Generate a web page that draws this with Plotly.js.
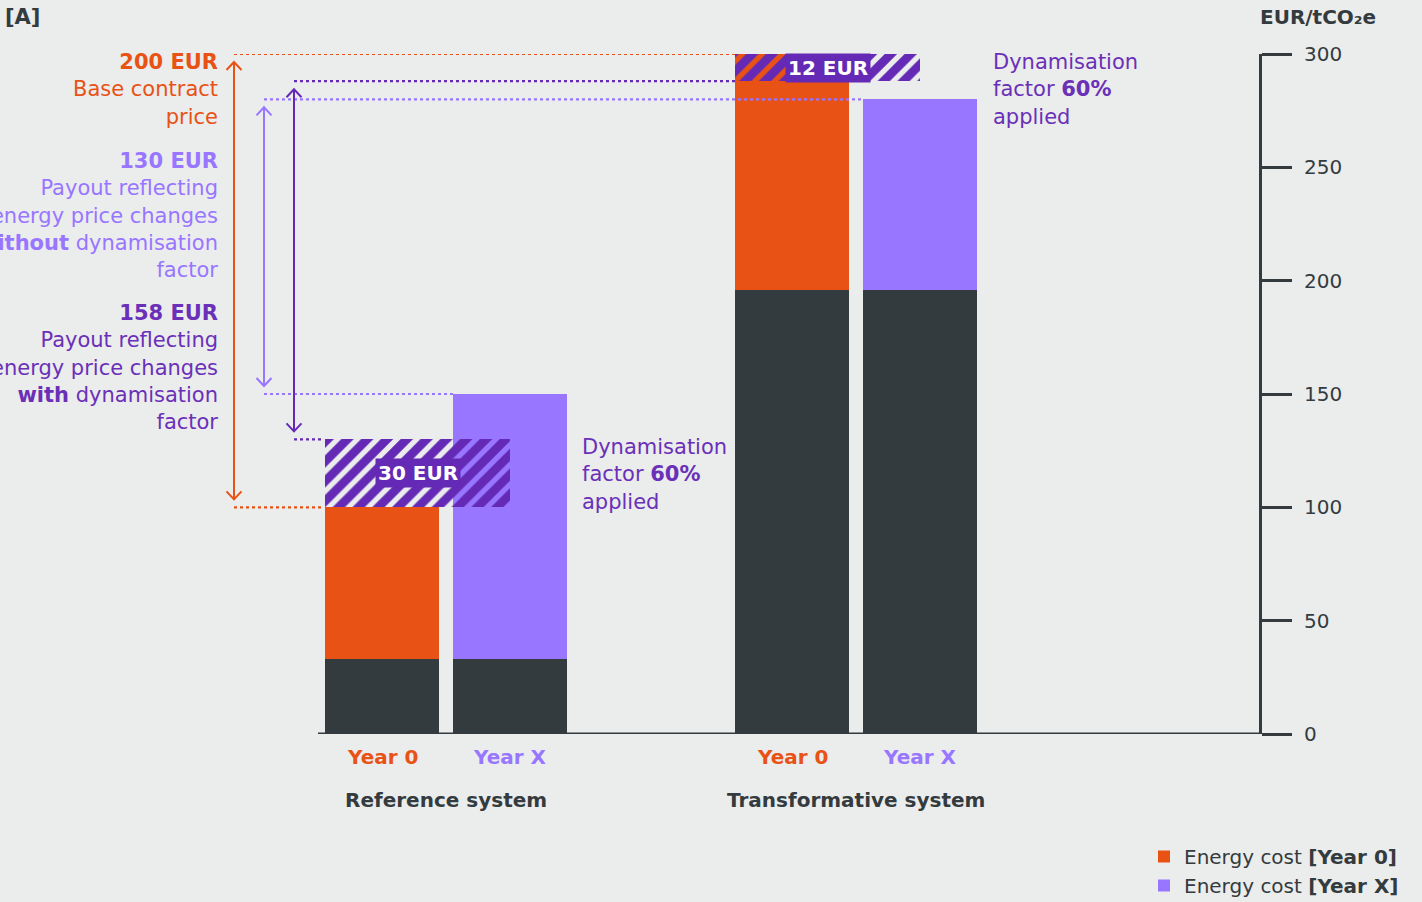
<!DOCTYPE html>
<html>
<head>
<meta charset="utf-8">
<script src="https://cdn.plot.ly/plotly-3.0.1.min.js"></script>
<style>
html,body{margin:0;padding:0;background:#EBECEC;}
#chart{width:1422px;height:902px;}
</style>
</head>
<body>
<div id="chart"></div>
<script>
// ---------------- DATA ----------------
const systems = ["Reference system", "Transformative system"];
const years = ["Year 0", "Year X"];
const baseCost = [33, 196];            // dark base segment
const energyYear0 = [67, 92];          // energy cost [Year 0]
const energyYearX = [117, 84];         // energy cost [Year X]
const dynamisationPayout = [30, 12];   // hatched payout (60% dynamisation factor)
const payoutLabels = ["30 EUR", "12 EUR"];
const dynamisationFactor = "60%";
const tickValues = [0, 50, 100, 150, 200, 250, 300];
const tickLabels = ["0", "50", "100", "150", "200", "250", "300"];
const legendNames = ["Energy cost <b>[Year 0]</b>", "Energy cost <b>[Year X]</b>"];
const yUnit = "EUR/tCO₂e";
const panelLabel = "[A]";

// ---------------- STYLE / LAYOUT CONSTANTS ----------------
const W = 1422, H = 902;
const PLOT_L = 0, PLOT_R = 1259, PLOT_T = 54, PLOT_B = 734;
const Y_MAX = 300;
const FONT = "DejaVu Sans, Verdana, sans-serif";
const C = {
  bg: "#EBECEC", dark: "#343B3E", orange: "#E85215",
  purple: "#9876FF", deep: "#6429B5", deepText: "#6A30B8"
};
const groupCenters = [446, 856];
const barWidth = 114, barOffset = 64;
const hatchOnEnergy0 = [false, true];  // in the transformative system the orange bar runs under the hatch
const px2p = (py) => (PLOT_B - py) / (PLOT_B - PLOT_T);   // paper y
const pxX = (px) => px / (PLOT_R - PLOT_L);                 // paper x
const dpx = (n) => n * Y_MAX / (PLOT_B - PLOT_T);

const x0 = groupCenters.map(c => c - barOffset);
const xX = groupCenters.map(c => c + barOffset);
const top0 = baseCost.map((b, i) => b + energyYear0[i]);
const topX = baseCost.map((b, i) => b + energyYearX[i]);
const hatchLeft = x0.map(x => x - barWidth / 2);
const hatchRight = xX;
const hatchCenter = hatchLeft.map((l, i) => (l + hatchRight[i]) / 2);
const hatchW = hatchLeft.map((l, i) => hatchRight[i] - l);

// ---------------- TRACES ----------------
const traces = [];
traces.push({
  type: "bar", name: "Base cost", showlegend: false,
  x: x0.concat(xX), y: baseCost.concat(baseCost), base: [0, 0, 0, 0],
  width: barWidth, marker: {color: C.dark, line: {width: 0}}, hoverinfo: "skip"
});
traces.push({
  type: "bar", name: legendNames[0],
  x: x0, y: energyYear0.map((e, i) => e + (hatchOnEnergy0[i] ? dynamisationPayout[i] : 0)),
  base: baseCost, width: barWidth, marker: {color: C.orange, line: {width: 0}}, hoverinfo: "skip"
});
traces.push({
  type: "bar", name: legendNames[1],
  x: xX, y: energyYearX, base: baseCost, width: barWidth,
  marker: {color: C.purple, line: {width: 0}}, hoverinfo: "skip"
});
traces.push({
  type: "bar", name: "Dynamisation payout", showlegend: false,
  x: hatchCenter, y: dynamisationPayout, base: top0, width: hatchW,
  marker: {
    color: "rgba(0,0,0,0)", line: {width: 0},
    pattern: {shape: "/", fgcolor: C.deep, bgcolor: "rgba(0,0,0,0)", fgopacity: 1,
              size: 14, solidity: 0.62, fillmode: "overlay"}
  },
  hoverinfo: "skip"
});

// ---------------- CALLOUT LEVELS ----------------
const totalTrans0 = top0[1] + dynamisationPayout[1];
const callouts = [
  {x: 234, lo: top0[0], hi: totalTrans0, color: C.orange, loEnd: hatchLeft[0] - 2, hiEnd: hatchLeft[1]},
  {x: 264, lo: topX[0], hi: topX[1], color: C.purple, loEnd: xX[0] - barWidth / 2, hiEnd: xX[1] - barWidth / 2},
  {x: 294, lo: top0[0] + dynamisationPayout[0], hi: top0[1], color: C.deep, loEnd: hatchLeft[0] - 2, hiEnd: hatchLeft[1]}
];

const shapes = [];
shapes.push({type: "line", xref: "x", yref: "y", x0: 318, x1: PLOT_R, y0: 0, y1: 0,
  line: {color: C.dark, width: 3}, layer: "below"});
callouts.forEach(c => {
  shapes.push({type: "line", xref: "x", yref: "y", x0: c.x, x1: c.hiEnd, y0: c.hi, y1: c.hi,
    line: {color: c.color, width: 2.2, dash: "dot"}});
  shapes.push({type: "line", xref: "x", yref: "y", x0: c.x, x1: c.loEnd, y0: c.lo, y1: c.lo,
    line: {color: c.color, width: 2.2, dash: "dot"}});
  const tTop = c.hi - dpx(8), tBot = c.lo + dpx(8);
  shapes.push({type: "path", xref: "x", yref: "y",
    path: `M${c.x},${tTop} L${c.x},${tBot}`, line: {color: c.color, width: 2}});
  shapes.push({type: "path", xref: "x", yref: "y",
    path: `M${c.x - 7.5},${tTop - dpx(8)} L${c.x},${tTop} L${c.x + 7.5},${tTop - dpx(8)}`, line: {color: c.color, width: 2}});
  shapes.push({type: "path", xref: "x", yref: "y",
    path: `M${c.x - 7.5},${tBot + dpx(8)} L${c.x},${tBot} L${c.x + 7.5},${tBot + dpx(8)}`, line: {color: c.color, width: 2}});
});

// ---------------- ANNOTATIONS ----------------
const FS = 21;
const ann = [];
const A = (o) => Object.assign({xref: "x", yref: "paper", showarrow: false}, o);
ann.push(A({x: 220, y: px2p(89.5), xanchor: "right", yanchor: "middle", align: "right",
  text: `<b>${callouts[0].hi - callouts[0].lo} EUR</b><br>Base contract<br>price`,
  font: {family: FONT, size: FS, color: C.orange}}));
ann.push(A({x: 220, y: px2p(215), xanchor: "right", yanchor: "middle", align: "right",
  text: `<b>${callouts[1].hi - callouts[1].lo} EUR</b><br>Payout reflecting<br>energy price changes<br><b>without</b> dynamisation<br>factor`,
  font: {family: FONT, size: FS, color: C.purple}}));
ann.push(A({x: 220, y: px2p(367.5), xanchor: "right", yanchor: "middle", align: "right",
  text: `<b>${callouts[2].hi - callouts[2].lo} EUR</b><br>Payout reflecting<br>energy price changes<br><b>with</b> dynamisation<br>factor`,
  font: {family: FONT, size: FS, color: C.deepText}}));
[[580, 474], [991, 89]].forEach(p => {
  ann.push(A({x: p[0], y: px2p(p[1]), xanchor: "left", yanchor: "middle", align: "left",
    text: `Dynamisation<br>factor <b>${dynamisationFactor}</b><br>applied`,
    font: {family: FONT, size: FS, color: C.deepText}}));
});
payoutLabels.forEach((t, i) => {
  ann.push(A({x: hatchCenter[i], yref: "y", y: top0[i] + dynamisationPayout[i] / 2, xanchor: "center", yanchor: "middle",
    text: `<b>${t}</b>`, bgcolor: C.deep, borderpad: 2,
    font: {family: FONT, size: 20, color: "#FFFFFF"}}));
});
systems.forEach((s, i) => {
  ann.push(A({x: x0[i], y: px2p(757), xanchor: "center", yanchor: "middle",
    text: `<b>${years[0]}</b>`, font: {family: FONT, size: 20, color: C.orange}}));
  ann.push(A({x: xX[i], y: px2p(757), xanchor: "center", yanchor: "middle",
    text: `<b>${years[1]}</b>`, font: {family: FONT, size: 20, color: C.purple}}));
  ann.push(A({x: groupCenters[i], y: px2p(800), xanchor: "center", yanchor: "middle",
    text: `<b>${s}</b>`, font: {family: FONT, size: 20, color: C.dark}}));
});
ann.push(A({xref: "paper", x: pxX(1318), y: px2p(17), xanchor: "center", yanchor: "middle",
  text: `<b>${yUnit}</b>`, font: {family: FONT, size: 20, color: C.dark}}));
ann.push(A({xref: "paper", x: pxX(3), y: px2p(17), xanchor: "left", yanchor: "middle",
  text: `<b>${panelLabel}</b>`, font: {family: FONT, size: 21, color: C.dark}}));

// ---------------- LAYOUT ----------------
const layout = {
  width: W, height: H,
  margin: {l: PLOT_L, r: W - PLOT_R, t: PLOT_T, b: H - PLOT_B, pad: 0, autoexpand: false},
  paper_bgcolor: C.bg, plot_bgcolor: C.bg,
  barmode: "overlay", bargap: 0,
  font: {family: FONT, color: C.dark, size: 20},
  xaxis: {range: [0, PLOT_R], visible: false, fixedrange: true},
  yaxis: {
    range: [0, Y_MAX], side: "right", showgrid: false, zeroline: false,
    showline: true, linecolor: C.dark, linewidth: 3,
    ticks: "outside", ticklen: 30, tickwidth: 3, tickcolor: C.dark,
    tickvals: tickValues, ticktext: tickLabels, ticklabelstandoff: 8,
    tickfont: {family: FONT, size: 20, color: C.dark}, fixedrange: true
  },
  showlegend: true,
  legend: {
    x: pxX(1144), y: px2p(837), xanchor: "left", yanchor: "top",
    bgcolor: "rgba(0,0,0,0)", font: {family: FONT, size: 20, color: C.dark},
    traceorder: "normal", tracegroupgap: 0
  },
  shapes: shapes,
  annotations: ann
};

Plotly.newPlot("chart", traces, layout, {displayModeBar: false, staticPlot: true});
</script>
</body>
</html>
